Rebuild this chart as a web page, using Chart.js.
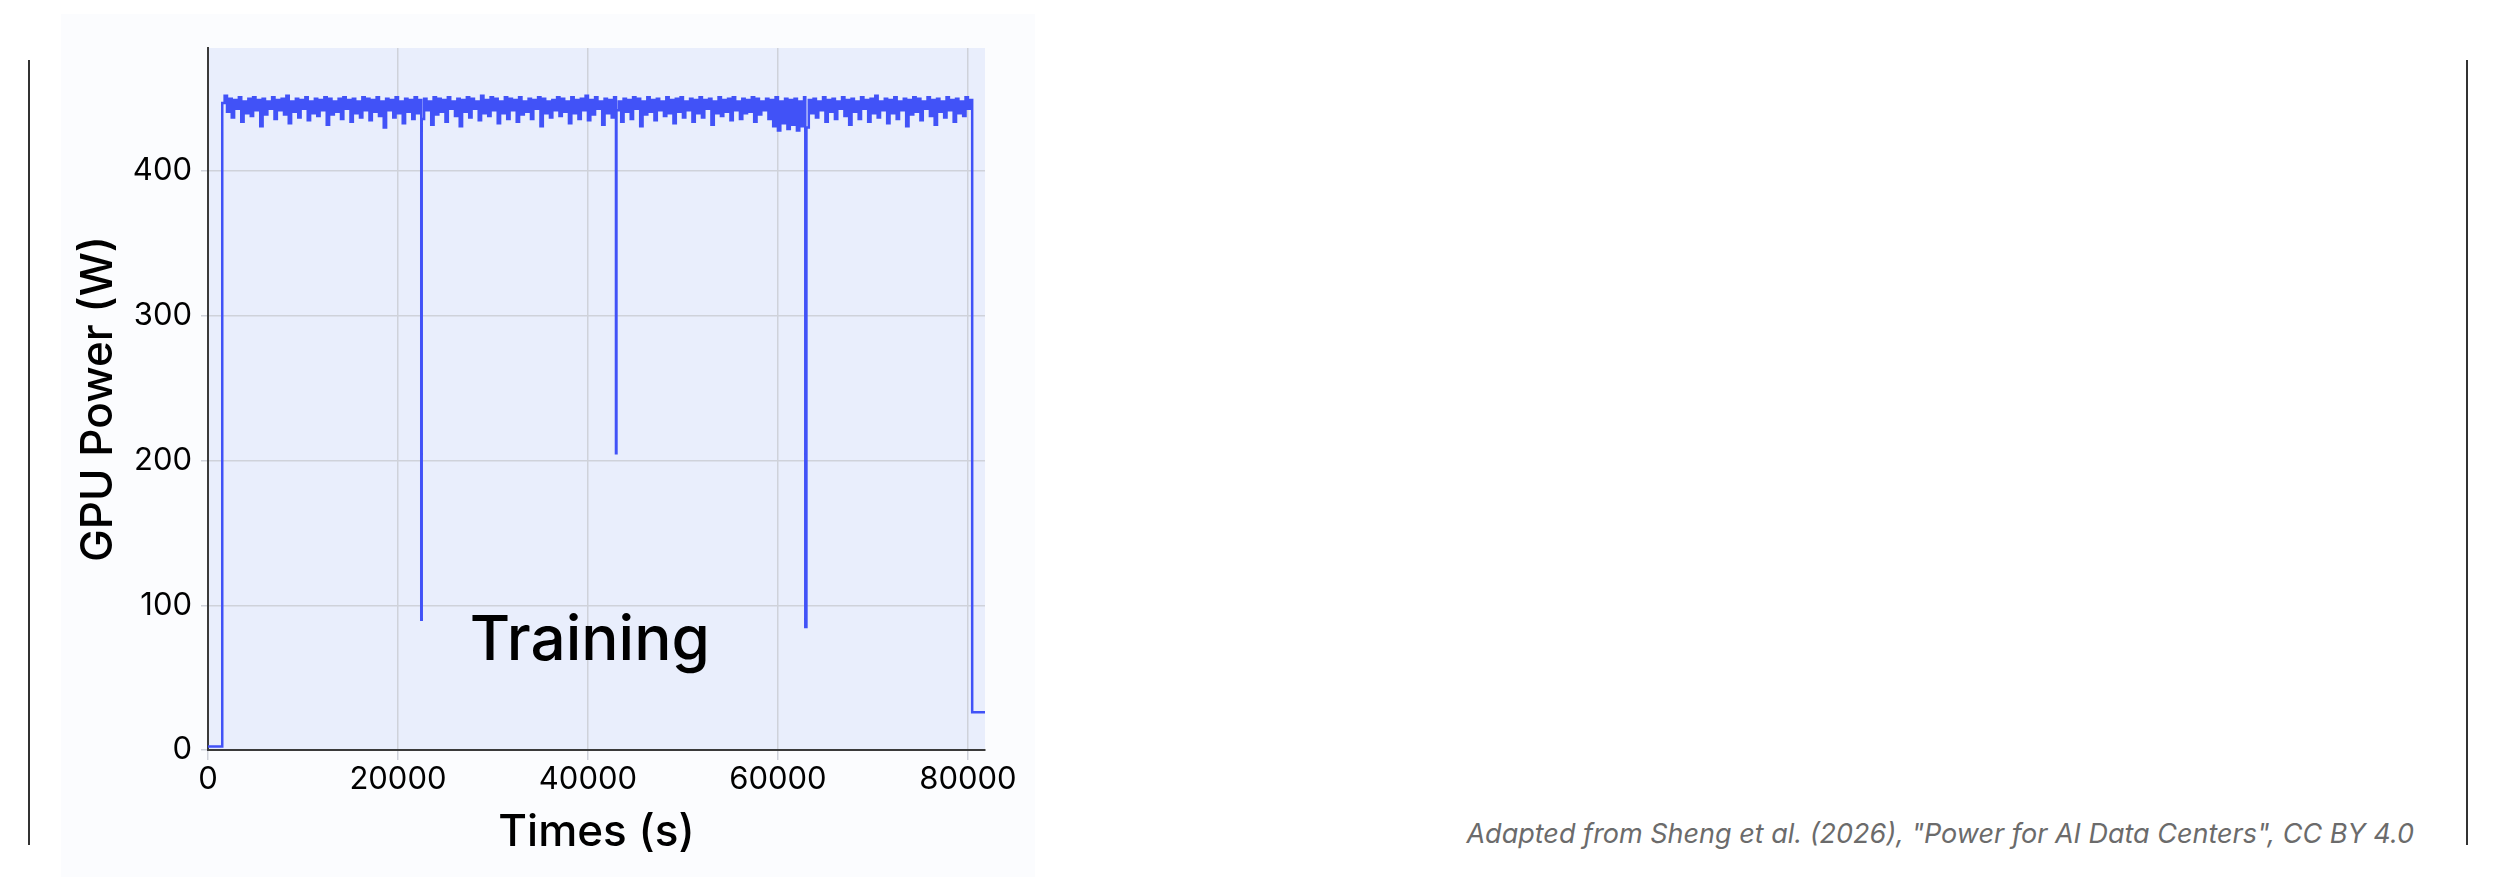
<!DOCTYPE html>
<html>
<head>
<meta charset="utf-8">
<script src="https://cdn.jsdelivr.net/npm/chart.js@4"></script>
<style>
  body { margin: 0; width: 2500px; height: 896px; background: #ffffff; position: relative; overflow: hidden; font-family: Inter, sans-serif; }
  .bar { position: absolute; top: 60px; width: 2px; height: 785px; background: #333333; }
  #panel { position: absolute; left: 61px; top: 14px; width: 974px; height: 863px; background: #fbfcfe; }
  #caption { position: absolute; right: 86px; top: 817px; font-size: 27px; font-style: italic; color: #6b6b6b; white-space: nowrap; }
</style>
</head>
<body>
<div class="bar" style="left:28px"></div>
<div class="bar" style="left:2466px"></div>
<div id="panel"><canvas id="chart"></canvas></div>
<div id="caption">Adapted from Sheng et al. (2026), "Power for AI Data Centers", CC BY 4.0</div>
<script>
// Tick values shown on each axis
const xTicks = [0, 20000, 40000, 60000, 80000];
const yTicks = [0, 100, 200, 300, 400];

// Idle start, ramp up, and the tail after the job stops (time s, power W)
const startTimes = [0, 1500, 1700];
const startPower = [2.5, 447, 447];
const endTimes = [80450, 80500, 82000];
const endPower = [26, 26, 26];

// Short drops to low power during the run
const dipTimes = [22450, 42950, 62880];
const dipPower = [90, 205, 85];

// Steady training power, read every 250 s from 1750 s to 80250 s
const sampleStart = 1750;
const sampleStep = 250;
const trainPower = [
  452, 441, 450, 437, 449, 443, 451, 434, 448, 440, 450, 438, 451, 442, 449, 431, 450, 439, 448, 443,
  451, 436, 449, 442, 450, 439, 452, 433, 448, 441, 450, 437, 449, 443, 451, 435, 448, 440, 450, 438,
  449, 442, 451, 432, 450, 439, 448, 441, 450, 436, 451, 443, 449, 434, 450, 440, 448, 437, 451, 442,
  450, 435, 449, 441, 451, 438, 448, 430, 450, 442, 449, 437, 451, 440, 448, 433, 450, 441, 449, 436,
  451, 440, 449, 436, 450, 442, 448, 432, 451, 439, 450, 441, 449, 434, 451, 443, 448, 438, 450, 431,
  449, 441, 451, 437, 450, 443, 448, 435, 452, 440, 449, 438, 451, 442, 450, 433, 448, 440, 451, 436,
  450, 442, 449, 434, 451, 439, 448, 441, 450, 436, 449, 443, 451, 431, 450, 440, 448, 437, 449, 442,
  451, 438, 450, 441, 448, 433, 451, 440, 449, 436, 450, 442, 452, 435, 449, 439, 451, 443, 448, 432,
  450, 440, 449, 437, 451, 442, 448, 434, 450, 441, 449, 436, 451, 443, 450, 431, 448, 439, 451, 441,
  449, 435, 450, 442, 448, 438, 451, 440, 449, 433, 450, 441, 451, 437, 448, 442, 450, 434, 449, 440,
  451, 437, 449, 443, 450, 432, 448, 440, 451, 438, 449, 441, 450, 435, 451, 442, 448, 436, 450, 440,
  449, 441, 451, 434, 450, 439, 448, 442, 450, 436, 449, 431, 451, 428, 448, 433, 450, 429, 449, 432,
  450, 428, 448, 431, 451, 430, 449, 440, 450, 437, 448, 442, 451, 434, 449, 441, 450, 436, 448, 443,
  451, 438, 449, 432, 450, 441, 448, 436, 451, 443, 449, 434, 450, 440, 452, 437, 448, 442, 450, 433,
  449, 440, 451, 436, 448, 442, 450, 431, 449, 439, 451, 441, 450, 435, 448, 443, 451, 438, 449, 432,
  450, 441, 448, 437, 451, 442, 449, 434, 450, 440, 448, 438, 451, 443, 449
];

// Label written inside the plot, placed in data units
const noteText = 'Training';
const noteAt = [40200, 62];

// Put all readings together in time order
const points = [];
startTimes.forEach((t, i) => points.push({x: t, y: startPower[i]}));
trainPower.forEach((p, i) => points.push({x: sampleStart + i * sampleStep, y: p}));
dipTimes.forEach((t, i) => points.push({x: t, y: dipPower[i]}));
endTimes.forEach((t, i) => points.push({x: t, y: endPower[i]}));
points.sort((a, b) => a.x - b.x);

// Light blue fill behind the plot area
const plotBackground = {
  id: 'plotBackground',
  beforeDraw(chart) {
    const {ctx, chartArea} = chart;
    ctx.save();
    ctx.fillStyle = '#e9eefc';
    ctx.fillRect(chartArea.left, chartArea.top, chartArea.right - chartArea.left, chartArea.bottom - chartArea.top);
    ctx.restore();
  }
};

// Text annotation inside the plot
const noteLabel = {
  id: 'noteLabel',
  afterDatasetsDraw(chart) {
    const {ctx, scales} = chart;
    ctx.save();
    ctx.font = '500 62px Inter';
    ctx.fillStyle = '#000000';
    ctx.textAlign = 'center';
    ctx.textBaseline = 'alphabetic';
    ctx.fillText(noteText, scales.x.getPixelForValue(noteAt[0]), scales.y.getPixelForValue(noteAt[1]));
    ctx.restore();
  }
};

Chart.defaults.font.family = 'Inter';
Chart.defaults.color = '#000000';

const chartInstance = new Chart(document.getElementById('chart'), {
  type: 'line',
  data: {
    datasets: [{
      data: points,
      borderColor: '#4152f7',
      borderWidth: 2.5,
      pointRadius: 0,
      stepped: true,
      fill: false
    }]
  },
  options: {
    responsive: true,
    maintainAspectRatio: false,
    animation: false,
    layout: { padding: { left: 0, top: 34, right: 50, bottom: 0 } },
    plugins: { legend: { display: false }, tooltip: { enabled: false } },
    scales: {
      x: {
        type: 'linear',
        min: 0,
        max: 81800,
        afterBuildTicks: (scale) => { scale.ticks = xTicks.map(v => ({value: v})); },
        afterFit: (scale) => { scale.height = 127; },
        grid: { color: '#cfd2da', lineWidth: 1.5, tickLength: 10 },
        border: { color: '#3a3a3a', width: 2 },
        ticks: { font: { size: 31 }, padding: 1, maxRotation: 0, autoSkip: false, callback: (v) => String(v) },
        title: { display: true, text: 'Times (s)', font: { size: 44, weight: 500 }, padding: { top: 0, bottom: 18 } }
      },
      y: {
        min: 0,
        max: 485,
        afterBuildTicks: (scale) => { scale.ticks = yTicks.map(v => ({value: v})); },
        afterFit: (scale) => { scale.width = 147; },
        grid: { color: '#cfd2da', lineWidth: 1.5, tickLength: 7 },
        border: { color: '#3a3a3a', width: 2 },
        ticks: { font: { size: 31 }, padding: 9 },
        title: { display: true, text: 'GPU Power (W)', font: { size: 44, weight: 500 }, padding: { top: 11, bottom: 0 } }
      }
    }
  },
  plugins: [plotBackground, noteLabel]
});
</script>
</body>
</html>
